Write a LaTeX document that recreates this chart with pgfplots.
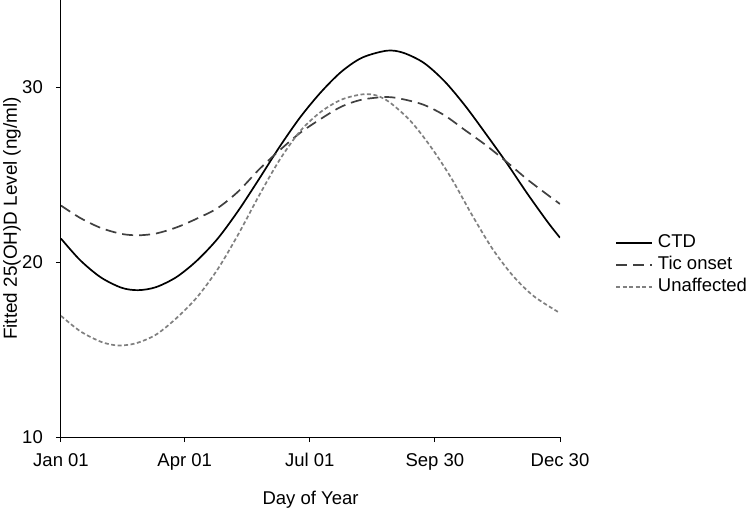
\documentclass[border=0pt]{standalone}
\usepackage{pgfplots}
\pgfplotsset{compat=1.18}
\usepackage{fontspec}
\setmainfont{Liberation Sans}
\begin{document}
\fontsize{18.5bp}{22bp}\selectfont
\begin{tikzpicture}
\begin{axis}[
  scale only axis,
  width=499bp, height=437bp,
  xmin=1, xmax=364, ymin=10, ymax=35,
  axis x line*=bottom, axis y line*=left,
  axis line style={black, line width=1bp},
  xtick={1,91,182,273,364},
  xticklabels={Jan 01,Apr 01,Jul 01,Sep 30,Dec 30},
  ytick={10,20,30},
  tick align=outside,
  major tick length=5bp,
  tick style={black, line width=1bp},
  /pgf/number format/assume math mode=true,
  xticklabel style={inner sep=0pt, anchor=base, yshift=-24bp},
  yticklabel style={inner sep=0pt, anchor=base east, xshift=-13bp, yshift=-6.6bp},
  xlabel={Day of Year},
  ylabel={Fitted 25(OH)D Level (ng/ml)},
  xlabel style={at={(axis description cs:0.5,-0.1556)}, anchor=base, inner sep=0pt},
  ylabel style={at={(axis description cs:-0.0882,0.5)}, anchor=base, inner sep=0pt, font=\fontsize{18.9bp}{22bp}\selectfont},
  legend style={draw=none, at={(1.1102,0.3936)}, anchor=west, fill=none,
    inner sep=0pt, row sep=4.5bp, column sep=5bp,
    nodes={inner sep=0pt, text height=13.5bp, text depth=4bp}},
  legend cell align=left,
  legend image code/.code={\draw[#1] (0bp,0bp) -- (36bp,0bp);},
]
\addplot[black, line width=1.7bp, smooth] coordinates {
(1,21.35) (15,20.11) (30,19.13) (45,18.54) (57,18.40) (70,18.57) (85,19.15) (100,20.1)
(115,21.35) (130,22.95) (145,24.75) (160,26.6) (175,28.29) (190,29.72) (205,30.9)
(220,31.7) (238,32.1) (250,31.98) (265,31.4) (280,30.35) (295,28.95) (310,27.35)
(325,25.7) (340,23.95) (355,22.3) (364,21.4)
};
\addlegendentry{CTD}
\addplot[black!75, line width=1.7bp, dash pattern=on 11bp off 6bp, smooth] coordinates {
(1,23.24) (15,22.53) (30,21.96) (45,21.62) (57,21.54) (70,21.64) (85,21.99) (100,22.5)
(115,23.1) (130,24.05) (145,25.3) (160,26.4) (175,27.4) (190,28.2) (205,28.9) (220,29.3)
(238,29.45) (250,29.32) (265,29.0) (280,28.4) (295,27.55) (310,26.7) (325,25.75)
(340,24.75) (355,23.85) (364,23.33)
};
\addlegendentry{Tic onset}
\addplot[black!50, line width=1.7bp, dash pattern=on 4bp off 2.5bp, smooth] coordinates {
(1,16.93) (15,16.05) (30,15.45) (42,15.24) (55,15.35) (70,15.85) (85,16.8) (100,18.0)
(115,19.6) (130,21.6) (145,23.8) (160,25.85) (175,27.5) (190,28.6) (205,29.3) (220,29.6)
(230,29.55) (240,29.15) (255,28.1) (270,26.6) (285,24.8) (300,22.7) (315,20.75)
(330,19.2) (345,18.05) (364,17.09)
};
\addlegendentry{Unaffected}
\end{axis}
\pgfresetboundingbox
\useasboundingbox ([shift={(-61bp,-73bp)}]current axis.south west) rectangle ([shift={(688bp,437bp)}]current axis.south west);
\end{tikzpicture}
\end{document}
